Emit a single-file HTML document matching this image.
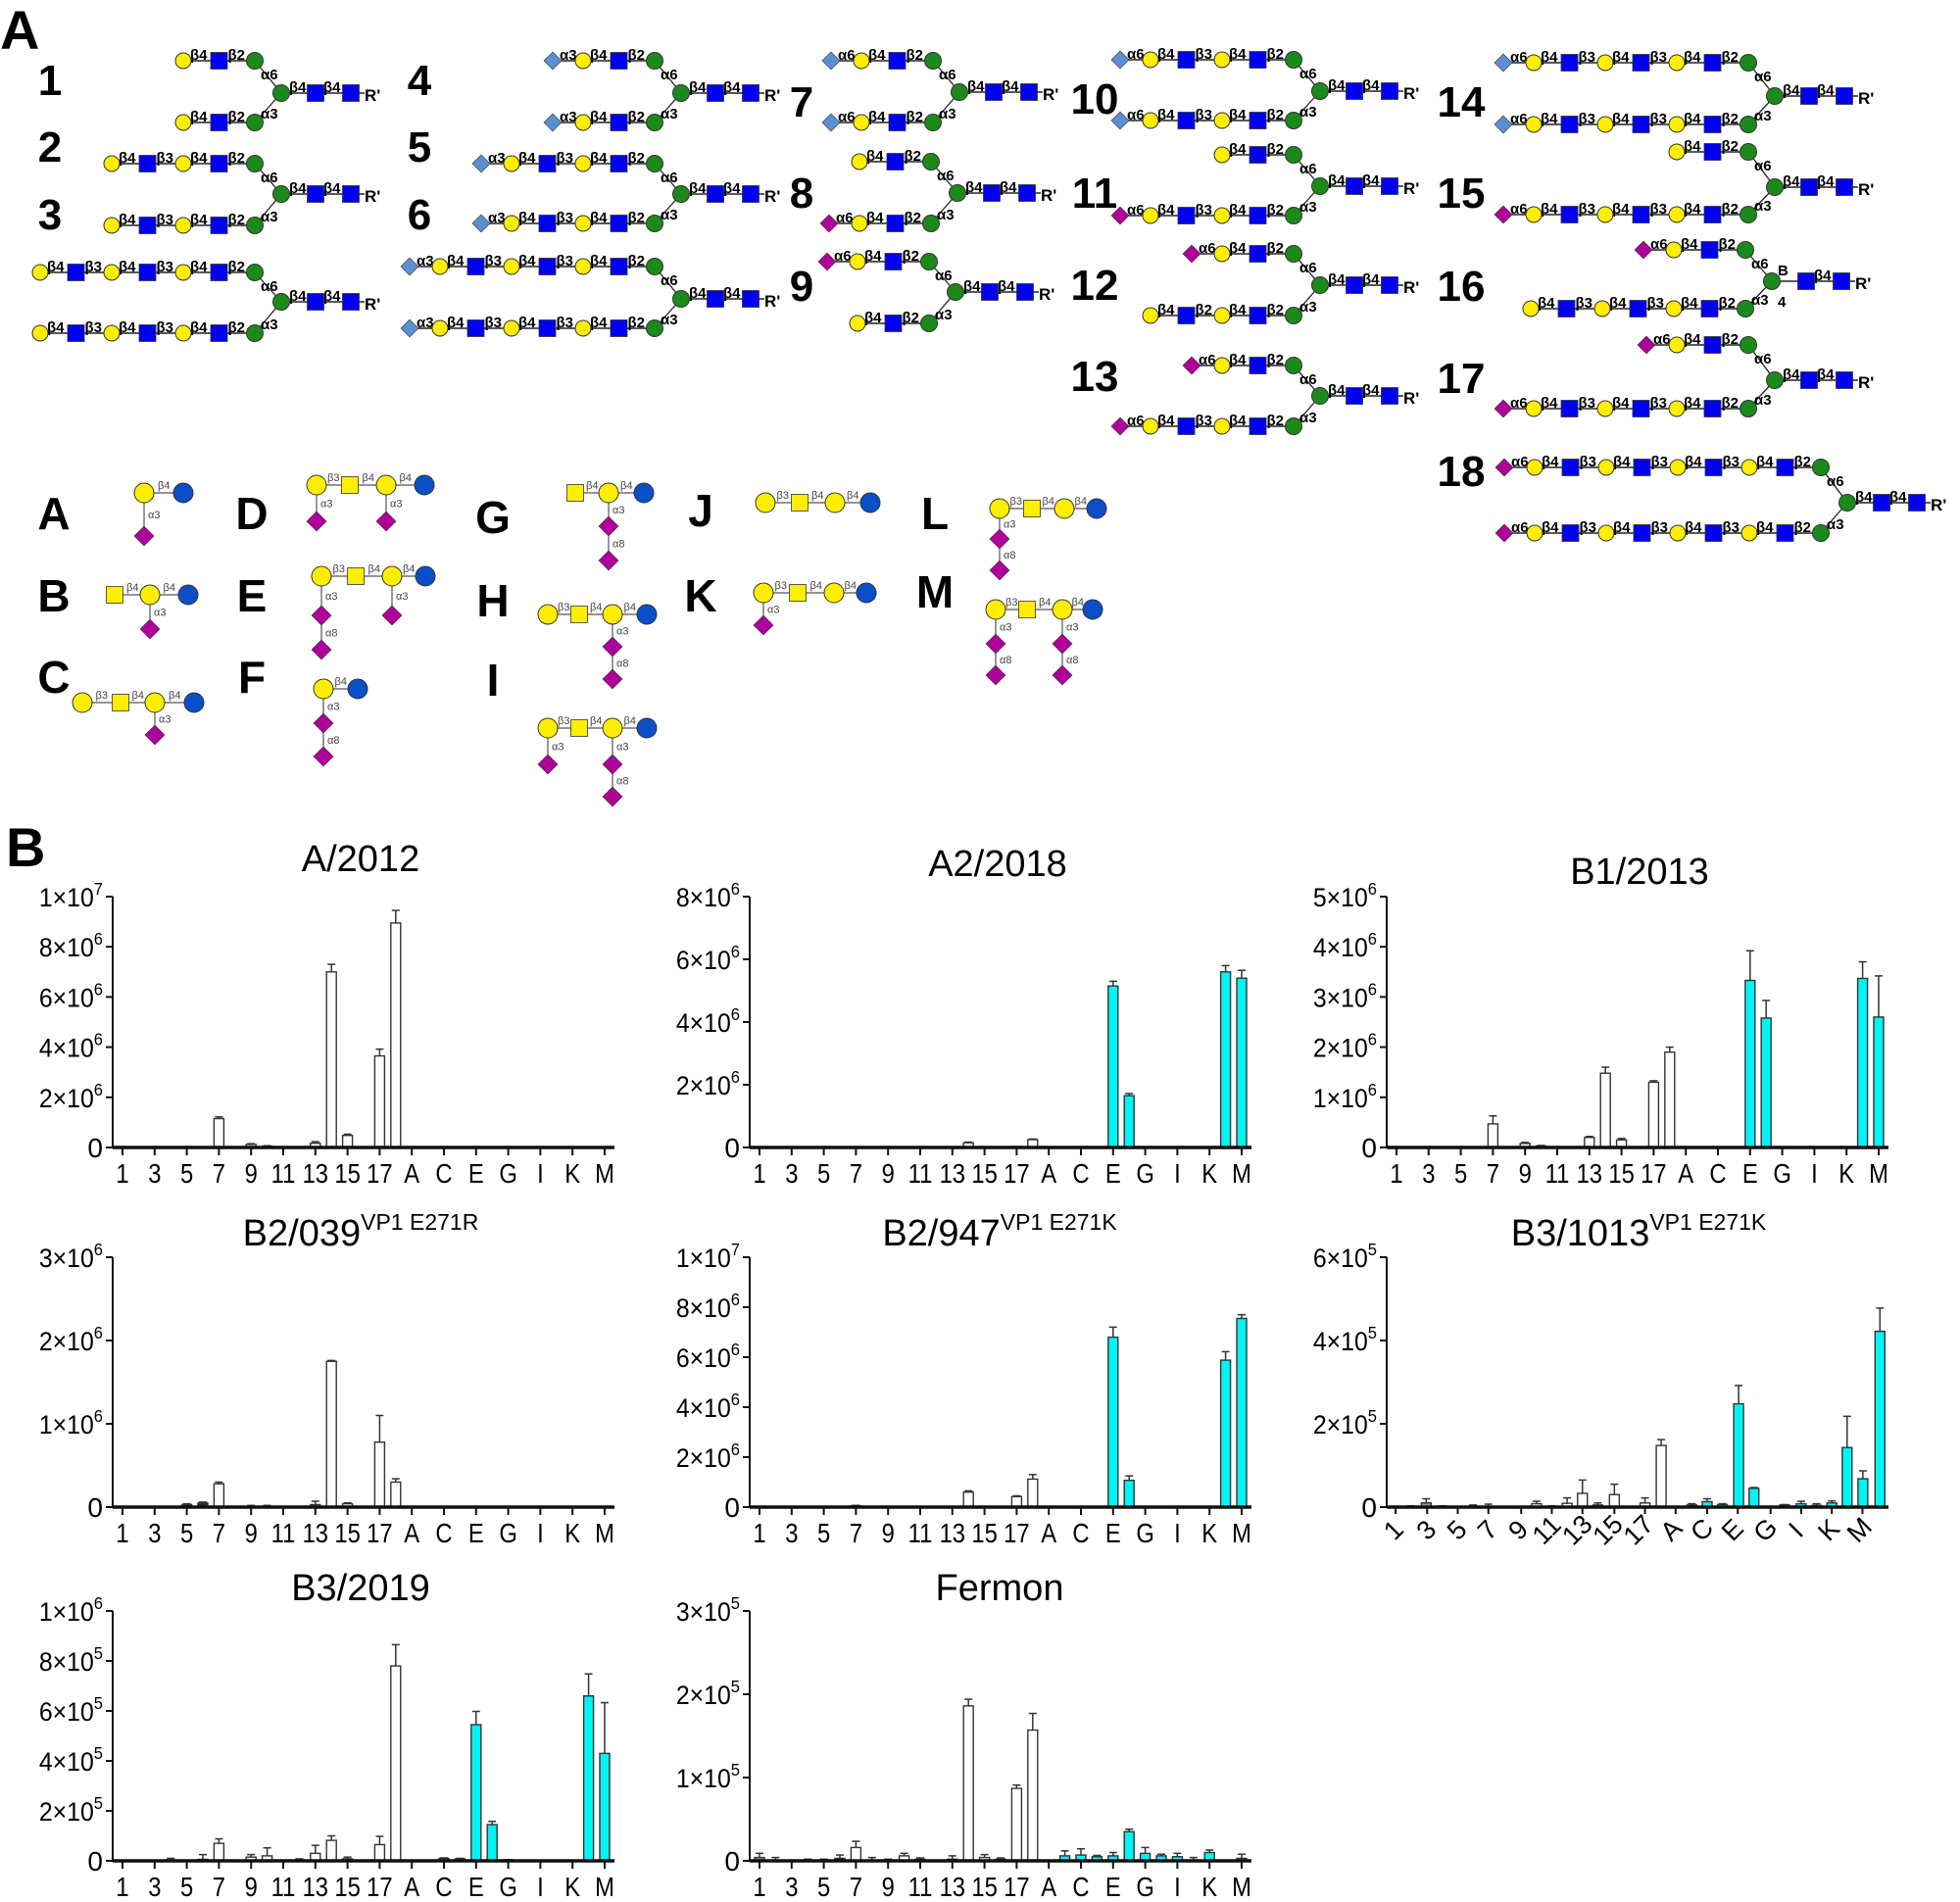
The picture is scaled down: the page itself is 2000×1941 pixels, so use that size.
<!DOCTYPE html>
<html><head><meta charset="utf-8">
<style>
html,body{margin:0;padding:0;background:#fff;}
svg{display:block;font-family:"Liberation Sans",Arial,sans-serif;}
</style></head>
<body>
<svg id="s" xmlns="http://www.w3.org/2000/svg" width="2000" height="1941" viewBox="0 0 2000 1941"></svg>
<script>
var out=[];
function P(s){out.push(s);}
var YEL="#ffee00",BLU="#0000f0",GRN="#1b8a1b",PUR="#b0009a",LBL="#5b8fd0",GLC="#0a4fc8";
function circ(x,y,r,f){P('<ellipse cx="'+x+'" cy="'+y+'" rx="'+r+'" ry="'+r+'" fill="'+f+'" stroke="#333" stroke-width="1"/>');}
function sq(x,y,s,f){P('<rect x="'+(x-s/2)+'" y="'+(y-s/2)+'" width="'+s+'" height="'+s+'" fill="'+f+'" stroke="#333" stroke-width="0.8"/>');}
function dia(x,y,s,f){P('<polygon points="'+(x-s)+','+y+' '+x+','+(y-s)+' '+(x+s)+','+y+' '+x+','+(y+s)+'" fill="'+f+'" stroke="#333" stroke-width="0.6"/>');}
function line(x1,y1,x2,y2,w,c){P('<line x1="'+x1+'" y1="'+y1+'" x2="'+x2+'" y2="'+y2+'" stroke="'+(c||'#222')+'" stroke-width="'+(w||1.5)+'"/>');}
function txt(x,y,t,sz,extra){P('<text x="'+x+'" y="'+y+'" font-size="'+sz+'" '+(extra||'')+'>'+t+'</text>');}
function res(r){
 if(r.t=='gal')circ(r.x,r.y,8,YEL);
 else if(r.t=='gn')sq(r.x,r.y,17,BLU);
 else if(r.t=='man')circ(r.x,r.y,8.5,GRN);
 else if(r.t=='ac')dia(r.x,r.y,9,PUR);
 else if(r.t=='gc')dia(r.x,r.y,9,LBL);
}
function arm(manX,y,n,cap,labs){
 var L=[],x=manX,links=[];
 for(var i=0;i<n;i++){
  x-=36.5;L.push({t:'gn',x:x,y:y});links.push(labs?labs[2*i]:(i==0?'β2':'β3'));
  x-=36.5;L.push({t:'gal',x:x,y:y});links.push(labs?labs[2*i+1]:'β4');
 }
 if(cap){x-=31;L.push({t:cap[0]=='a'?'ac':'gc',x:x,y:y});links.push('α'+cap[1]);}
 line(x,y,manX,y,1.5);
 for(var i=0;i<L.length;i++){
  var lx=L[i].x+(L[i].t=='gn'?9:7);
  txt(lx,y-1,links[i],15,'font-weight="bold"');
 }
 for(var i=0;i<L.length;i++)res(L[i]);
}
function bi(num,nx,ny,manX,uy,cy,ly,up,lo,b16){
 var c=manX+27;
 line(manX,uy,c,cy,1.3);line(manX,ly,c,cy,1.3);
 line(c,cy,c+85,cy,1.5);
 arm(manX,uy,up[0],up[1],up[2]);arm(manX,ly,lo[0],lo[1],lo[2]);
 res({t:'man',x:manX,y:uy});res({t:'man',x:manX,y:ly});
 txt(manX+6,uy+19,'α6',15,'font-weight="bold"');
 txt(manX+6,ly-4,'α3',15,'font-weight="bold"');
 if(b16){txt(c+6,cy-6,'B',15,'font-weight="bold"');txt(c+6,cy+26,'4',15,'font-weight="bold"');}
 else txt(c+8,cy-1,'β4',15,'font-weight="bold"');
 txt(c+43,cy-1,'β4',15,'font-weight="bold"');
 res({t:'man',x:c,y:cy});
 sq(c+35,cy,17,BLU);sq(c+71,cy,17,BLU);
 txt(c+85,cy+8,"R'",17,'font-weight="bold"');
 if(num)txt(nx,ny,num,44,'font-weight="bold" text-anchor="middle"');
}
txt(0,50,'A',56,'font-weight="bold"');
txt(6,884,'B',56,'font-weight="bold"');
bi('1',51,97,260,62,95,125,[1],[1]);
bi('2',51,165,260,167,198,230,[2],[2]);
bi('3',51,234,260,278,308,340,[3],[3]);
bi('4',428,97,668,62,95,125,[1,'g3'],[1,'g3']);
bi('5',428,165,668,167,198,228,[2,'g3'],[2,'g3']);
bi('6',428,234,668,272,305,335,[3,'g3'],[3,'g3']);
bi('7',818,119,952,62,94,125,[1,'g6'],[1,'g6']);
bi('8',818,212,950,165,197,228,[1],[1,'a6']);
bi('9',818,307,948,267,298,330,[1,'a6'],[1]);
bi('10',1117,116,1320,61,93,123,[2,'g6'],[2,'g6']);
bi('11',1117,212,1320,158,190,220,[1],[2,'a6']);
bi('12',1117,306,1320,259,291,322,[1,'a6'],[2,null,['β2','β4','β2','β4']]);
bi('13',1117,399,1320,373,404,435,[1,'a6'],[2,'a6']);
bi('14',1491,119,1784,64,98,127,[3,'g6'],[3,'g6']);
bi('15',1491,212,1784,155,191,219,[1],[3,'a6']);
bi('16',1491,307,1781,255,287,315,[1,'a6'],[3],true);
bi('17',1491,401,1784,352,388,417,[1,'a6'],[3,'a6']);
bi('18',1491,496,1858,477,513,544,[4,'a6'],[4,'a6']);

function sm(list,links){
 links.forEach(function(l){line(l[0],l[1],l[2],l[3],1.2,'#555');
  if(l[4])txt((l[0]+l[2])/2+(l[1]==l[3]?-6:4),(l[1]==l[3]?l[1]-4:(l[1]+l[3])/2+4),l[4],11,'fill="#444"');});
 list.forEach(function(r){
  if(r[0]=='o')circ(r[1],r[2],10,YEL);
  else if(r[0]=='b')circ(r[1],r[2],10,GLC);
  else if(r[0]=='s')sq(r[1],r[2],17,YEL);
  else if(r[0]=='d')dia(r[1],r[2],10,PUR);
 });
}
function chainH(y,xs,types,labs){var L=[],lk=[];for(var i=0;i<xs.length;i++){L.push([types[i],xs[i],y]);if(i>0)lk.push([xs[i-1],y,xs[i],y,labs[i-1]]);}return [L,lk];}
function smS(y,xs,types,labs,vert){var c=chainH(y,xs,types,labs);vert.forEach(function(v){c[0].push(['d',v[0],v[2]]);c[1].push([v[0],v[1],v[0],v[2],v[3]]);});sm(c[0],c[1]);}
var BL='font-weight="bold" text-anchor="middle"';
[['A',55,540],['D',257,540],['G',503,544],['J',715,537],['L',954,540],['B',55,624],['E',257,624],['H',503,629],['K',715,624],['M',954,620],['C',55,707],['F',257,707],['I',503,710]].forEach(function(a){txt(a[1],a[2],a[0],46,BL);});
smS(503,[147,187],['o','b'],['β4'],[[147,503,547,'α3']]);
smS(607,[117,153,192],['s','o','b'],['β4','β4'],[[153,607,642,'α3']]);
smS(717,[84,123,158,198],['o','s','o','b'],['β3','β4','β4'],[[158,717,750,'α3']]);
smS(495,[323,357,394,433],['o','s','o','b'],['β3','β4','β4'],[[323,495,532,'α3'],[394,495,532,'α3']]);
smS(588,[328,363,400,434],['o','s','o','b'],['β3','β4','β4'],[[328,588,628,'α3'],[328,628,663,'α8'],[400,588,628,'α3']]);
smS(703,[330,365],['o','b'],['β4'],[[330,703,738,'α3'],[330,738,772,'α8']]);
smS(503,[587,621,657],['s','o','b'],['β4','β4'],[[621,503,537,'α3'],[621,537,572,'α8']]);
smS(627,[559,591,625,660],['o','s','o','b'],['β3','β4','β4'],[[625,627,660,'α3'],[625,660,693,'α8']]);
smS(743,[559,591,625,660],['o','s','o','b'],['β3','β4','β4'],[[559,743,780,'α3'],[625,743,780,'α3'],[625,780,813,'α8']]);
smS(513,[781,816,852,888],['o','s','o','b'],['β3','β4','β4'],[]);
smS(605,[779,814,851,884],['o','s','o','b'],['β3','β4','β4'],[[779,605,638,'α3']]);
smS(519,[1020,1053,1086,1119],['o','s','o','b'],['β3','β4','β4'],[[1020,519,550,'α3'],[1020,550,582,'α8']]);
smS(622,[1016,1048,1084,1115],['o','s','o','b'],['β3','β4','β4'],[[1016,622,657,'α3'],[1016,657,689,'α8'],[1084,622,657,'α3'],[1084,657,689,'α8']]);

var XL=['1','3','5','7','9','11','13','15','17','A','C','E','G','I','K','M'];
var FILL={w:'#fff',c:'#00f4f4',g:'#999',k:'#222',t:'#0a8a8a'};
function ylab(x,y,m,e){
 if(e==null)P('<text x="'+x+'" y="'+y+'" font-size="28" text-anchor="end">'+m+'</text>');
 else P('<text x="0" y="0" font-size="27" text-anchor="end" transform="translate('+x+' '+y+') scale(0.92 1)">'+m+'×10<tspan font-size="18" dy="-12">'+e+'</tspan></text>');
}
function chart(o){
 var ax=o.ox+115,top=o.top,base=o.base,H=base-top;
 function Y(v){return base-v/o.max*H;}
 var tw=o.title.sup?'<tspan font-size="23" dy="-16">'+o.title.sup+'</tspan>':'';
 P('<text x="'+o.title.x+'" y="'+o.title.y+'" font-size="38" text-anchor="middle">'+o.title.t+tw+'</text>');
 line(ax,top,ax,base,2,'#111');
 o.ticks.forEach(function(t){var y=Y(t[0]);line(ax-7,y,ax,y,2,'#111');ylab(ax-10,y+10,t[1],t[2]);});
 var bx=o.bx||function(i){return o.ox+125+i*16.4;};
 o.bars.forEach(function(b){
  var x=!o.bxAbs?bx(b[0]):b[0],y=Y(b[1]),w=10;
  if(b[2]&&b[2]>b[1]){var ey=Y(b[2]);line(x,y,x,ey,1.5,'#333');line(x-4,ey,x+4,ey,1.5,'#333');}
  P('<rect x="'+(x-w/2)+'" y="'+y+'" width="'+w+'" height="'+Math.max(base-y,1)+'" fill="'+FILL[b[3]||'w']+'" stroke="#333" stroke-width="1.4"/>');
 });
 line(ax,base,o.ox+627,base,3.5,'#111');
 if(o.rot){
  o.tx.forEach(function(tx){line(tx,base,tx,base+7,2,'#111');});
  o.lx.forEach(function(lx,i){P('<text x="'+lx+'" y="'+(base+33)+'" font-size="27" text-anchor="middle" transform="rotate(-45 '+lx+' '+(base+22)+')">'+XL[i]+'</text>');});
 } else {
  for(var i=0;i<16;i++){var tx=bx(2*i);line(tx,base,tx,base+8,2,'#111');P('<text x="0" y="0" font-size="28" text-anchor="middle" transform="translate('+tx+' '+(base+36)+') scale(0.85 1)">'+XL[i]+'</text>');}
 }
}
function W(a){return a.map(function(b){return [b[0],b[1],b[2]||0,b[3]||'w'];});}
var R1=[915,1171],R2=[1283,1538],R3=[1644,1899];
chart({ox:0,top:R1[0],base:R1[1],max:10,title:{t:'A/2012',x:368,y:889},
 ticks:[[0,'0'],[2,'2',6],[4,'4',6],[6,'6',6],[8,'8',6],[10,'1',7]],
 bars:W([[6,1.15,1.22],[7,0.03],[8,0.12,0.15],[9,0.05,0.07],[12,0.17,0.23],[13,7.0,7.3],[14,0.48,0.53],[16,3.65,3.92],[17,8.95,9.45]])});
chart({ox:650,top:R1[0],base:R1[1],max:8,title:{t:'A2/2018',x:1018,y:894},
 ticks:[[0,'0'],[2,'2',6],[4,'4',6],[6,'6',6],[8,'8',6]],
 bars:W([[13,0.15,0.17],[16,0.03],[17,0.25,0.27],[22,5.15,5.3,'c'],[23,1.65,1.72,'c'],[29,5.6,5.8,'c'],[30,5.4,5.65,'c']])});
chart({ox:1300,top:R1[0],base:R1[1],max:5,title:{t:'B1/2013',x:1673,y:902},
 ticks:[[0,'0'],[1,'1',6],[2,'2',6],[3,'3',6],[4,'4',6],[5,'5',6]],
 bars:W([[6,0.47,0.63],[7,0.01],[8,0.08,0.1],[9,0.03,0.04],[12,0.2,0.22],[13,1.48,1.6],[14,0.15,0.18],[16,1.3,1.33],[17,1.9,2.0],[22,3.33,3.92,'c'],[23,2.58,2.93,'c'],[29,3.37,3.7,'c'],[30,2.6,3.42,'c']])});
chart({ox:0,top:R2[0],base:R2[1],max:3,title:{t:'B2/039',sup:'VP1 E271R',x:368,y:1271},
 ticks:[[0,'0'],[1,'1',6],[2,'2',6],[3,'3',6]],
 bars:W([[4,0.03,0.04,'k'],[5,0.05,0.06,'k'],[6,0.28,0.3],[8,0.01,0.02],[9,0.01,0.02],[12,0.03,0.07,'g'],[13,1.75,1.76],[14,0.04,0.05],[16,0.78,1.1],[17,0.3,0.34]])});
chart({ox:650,top:R2[0],base:R2[1],max:10,title:{t:'B2/947',sup:'VP1 E271K',x:1020,y:1271},
 ticks:[[0,'0'],[2,'2',6],[4,'4',6],[6,'6',6],[8,'8',6],[10,'1',7]],
 bars:W([[6,0.05,0.07],[13,0.6,0.65],[16,0.42,0.45],[17,1.12,1.3],[22,6.8,7.2,'c'],[23,1.07,1.25,'c'],[29,5.88,6.22,'c'],[30,7.55,7.7,'c']])});
(function(){
 var z=function(v){return 1300+v/2.24;};
 var bars=[[278,0.01,0.02],[313,0.01,0.03],[348,0.1,0.2,'g'],[385,0.02,0.03],[420,0.01,0.01],[455,0.02,0.05],[490,0.01,0.07],[600,0.08,0.14],[635,0.01,0.03],[670,0.09,0.22],[705,0.33,0.65],[740,0.05,0.1,'g'],[778,0.3,0.55],[848,0.1,0.22],[885,1.48,1.62],
 [955,0.05,0.08,'c'],[990,0.13,0.2,'c'],[1025,0.06,0.08,'c'],[1062,2.48,2.92,'c'],[1097,0.45,0.47,'c'],[1133,0.01,0.02,'t'],[1167,0.05,0.06,'c'],[1205,0.08,0.14,'c'],[1240,0.04,0.08,'c'],[1275,0.1,0.15,'c'],[1310,1.43,2.18,'c'],[1346,0.68,0.87,'c'],[1385,4.22,4.78,'c']];
 chart({ox:1300,top:R2[0],base:R2[1],max:6,title:{t:'B3/1013',sup:'VP1 E271K',x:1672,y:1271},bxAbs:true,
  ticks:[[0,'0'],[2,'2',5],[4,'4',5],[6,'6',5]],
  bars:bars.map(function(b){return [z(b[0]),b[1],b[2],b[3]||'w'];}),rot:true,
  tx:[278,350,420,490,565,635,705,778,848,918,990,1060,1135,1205,1275,1345].map(z),
  lx:[270,345,415,485,555,620,690,760,830,905,975,1045,1120,1190,1265,1335].map(z)});
})();
chart({ox:0,top:R3[0],base:R3[1],max:10,title:{t:'B3/2019',x:368,y:1633},
 ticks:[[0,'0'],[2,'2',5],[4,'4',5],[6,'6',5],[8,'8',5],[10,'1',6]],
 bars:W([[0,0.01],[2,0.02],[3,0.04,0.1],[5,0.06,0.25,'k'],[6,0.7,0.88],[8,0.15,0.25],[9,0.2,0.52],[10,0.02,0.03],[11,0.03,0.08],[12,0.3,0.62],[13,0.82,1.0],[14,0.08,0.15,'g'],[16,0.65,0.98],[17,7.8,8.65],[19,0.02,0.03,'t'],[20,0.1,0.12,'t'],[21,0.08,0.1,'t'],[22,5.45,5.98,'c'],[23,1.45,1.58,'c'],[24,0.04,0.05,'t'],[25,0.02,0.03],[26,0.02,0.03],[28,0.02,0.03],[29,6.6,7.48,'c'],[30,4.3,6.33,'c']])});
chart({ox:650,top:R3[0],base:R3[1],max:30,title:{t:'Fermon',x:1020,y:1633},
 ticks:[[0,'0'],[10,'1',5],[20,'2',5],[30,'3',5]],
 bars:W([[0,0.4,0.9,'g'],[1,0.1,0.4],[3,0.1,0.2],[4,0.1,0.2],[5,0.3,0.7,'k'],[6,1.6,2.35],[7,0.1,0.4],[8,0.1,0.2],[9,0.6,0.9],[10,0.2,0.35],[12,0.2,0.6],[13,18.6,19.4],[14,0.4,0.75],[15,0.2,0.35],[16,8.7,9.1],[17,15.7,17.7],[19,0.6,1.2,'c'],[20,0.7,1.45,'c'],[21,0.5,0.65,'c'],[22,0.6,1.0,'c'],[23,3.5,3.8,'c'],[24,0.9,1.6,'c'],[25,0.6,0.8,'c'],[26,0.5,0.9,'c'],[27,0.1,0.4],[28,1.0,1.3,'c'],[30,0.3,0.8,'t']])});
document.getElementById('s').innerHTML=out.join('');
</script>
</body></html>
